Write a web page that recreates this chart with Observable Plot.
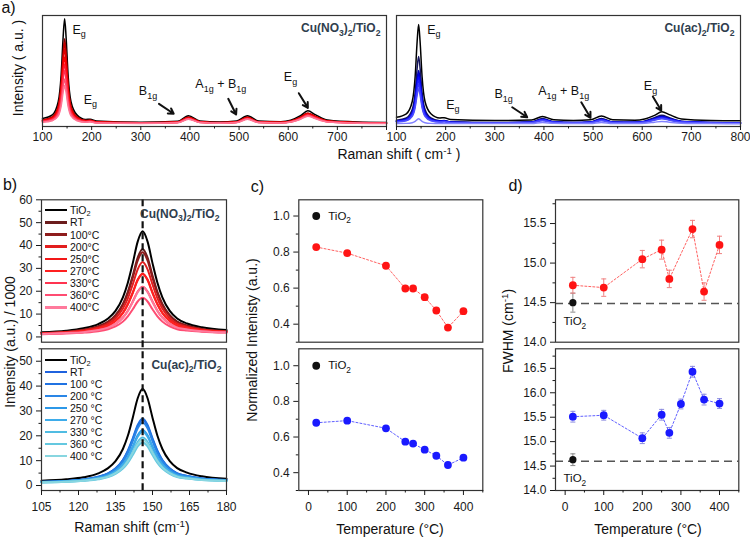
<!DOCTYPE html>
<html><head><meta charset="utf-8">
<script src="https://cdn.jsdelivr.net/npm/d3@7"></script>
<script src="https://cdn.jsdelivr.net/npm/@observablehq/plot@0.6"></script>
<style>
body{margin:0;background:#fff;}
#fig{position:relative;width:750px;height:539px;overflow:hidden;font-family:"Liberation Sans",Arial,Helvetica,sans-serif;color:#111;background:#fff;}
#fig div.p{position:absolute;}
.lbl{position:absolute;white-space:nowrap;line-height:1;}
.leg{position:absolute;font-size:10.5px;color:#111;}
.leg .row{display:flex;align-items:center;}
.leg .sw{display:inline-block;width:22px;height:2.4px;margin-right:3px;}
sub{font-size:0.7em;vertical-align:-0.28em;line-height:0;}
sup{font-size:0.7em;vertical-align:0.5em;line-height:0;}
</style></head><body><div id="fig"></div>
<script>
// ---------------- DATA ----------------
// Panel a: Raman shift grid (cm^-1) and spectra (a.u.)
const gridA = [100,120,132,138,142,145,148,152,158,170,188,197,210,300,375,397,420,460,495,517,540,585,605,625,640,655,680,740,800];
const aNO3_TiO2 = [7.5,10.8,23.0,48.3,83.1,100,83.1,48.3,23.0,10.8,6.5,6.8,5.1,4.0,4.8,10.0,5.2,4.2,5.0,10.0,5.0,4.5,5.8,10.0,14.5,11.0,6.0,4.2,3.8];
const aNO3_RT   = [6.1,9.0,18.9,39.5,67.7,81.5,67.7,39.5,18.9,9.0,5.5,5.8,4.3,3.5,4.2,8.6,4.5,3.6,4.3,8.6,4.3,3.9,5.0,8.6,12.4,9.4,5.2,3.6,3.3];
const aNO3_100  = [5.9,8.7,18.2,37.9,64.9,78,64.9,37.9,18.2,8.7,5.5,5.7,4.3,3.5,4.1,8.5,4.5,3.6,4.3,8.5,4.3,3.9,5.0,8.5,12.2,9.3,5.1,3.6,3.3];
const aNO3_200  = [5.6,8.2,17.0,35.1,59.9,72,59.9,35.1,17.0,8.2,5.2,5.5,4.1,3.4,4.0,8.2,4.3,3.5,4.2,8.2,4.2,3.8,4.8,8.2,11.8,9.0,5.0,3.5,3.2];
const aNO3_250  = [5.3,7.6,15.4,31.5,53.7,64.5,53.7,31.5,15.4,7.6,4.9,5.2,3.9,3.3,3.9,7.9,4.2,3.4,4.0,7.9,4.0,3.6,4.6,7.9,11.3,8.6,4.8,3.4,3.1];
const aNO3_270  = [4.9,7.0,14.0,28.5,48.3,58,48.3,28.5,14.0,7.0,4.7,5.0,3.8,3.1,3.7,7.5,4.0,3.3,3.9,7.5,3.9,3.5,4.5,7.5,10.8,8.3,4.6,3.3,3.0];
const aNO3_330  = [4.7,6.6,12.8,25.7,43.4,52,43.4,25.7,12.8,6.6,4.5,4.8,3.7,3.1,3.7,7.3,4.0,3.3,3.8,7.3,3.8,3.5,4.4,7.3,10.5,8.0,4.5,3.3,3.0];
const aNO3_360  = [4.3,5.9,11.1,21.9,36.8,44,36.8,21.9,11.1,5.9,4.2,4.5,3.5,3.0,3.6,7.1,3.8,3.2,3.7,7.1,3.7,3.4,4.2,7.1,10.1,7.7,4.4,3.2,2.9];
const aNO3_400  = [4.0,5.4,9.8,19.1,31.8,38,31.8,19.1,9.8,5.4,4.0,4.3,3.3,2.9,3.4,6.7,3.7,3.1,3.6,6.7,3.6,3.2,4.1,6.7,9.5,7.3,4.2,3.1,2.8];

const aAc_TiO2 = [8.6,11.8,23.2,46.6,78.9,94.6,78.9,46.6,23.2,11.8,7.9,8.2,6.5,5.5,6.1,9.3,6.3,5.6,6.2,9.8,6.2,5.8,6.9,10.3,13.7,11.0,7.0,5.6,5.3];
const aAc_RT   = [5.7,7.9,15.7,31.9,54.2,65,54.2,31.9,15.7,7.9,5.3,5.6,4.3,3.6,4.2,7.4,4.4,3.7,4.2,7.4,4.2,3.9,5.0,8.2,10.4,8.2,4.9,3.7,3.4];
const aAc_100  = [5.1,6.8,13.0,25.9,43.4,52,43.4,25.9,13.0,6.8,4.8,5.2,4.0,3.5,4.0,6.7,4.2,3.6,4.0,6.7,4.0,3.7,4.7,7.4,9.3,7.4,4.6,3.6,3.3];
const aAc_200  = [5.0,6.6,12.4,24.5,41.0,49,41.0,24.5,12.4,6.6,4.8,5.1,4.0,3.5,3.9,6.5,4.1,3.5,3.9,6.5,3.9,3.7,4.6,7.1,8.9,7.1,4.5,3.5,3.3];
const aAc_250  = [4.8,6.3,11.8,23.0,38.5,46,38.5,23.0,11.8,6.3,4.6,4.9,3.8,3.4,3.8,6.2,4.0,3.4,3.8,6.2,3.8,3.6,4.4,6.8,8.5,6.8,4.3,3.4,3.2];
const aAc_270  = [4.7,6.1,11.2,21.6,36.0,43,36.0,21.6,11.2,6.1,4.5,4.8,3.8,3.3,3.8,6.0,3.9,3.4,3.8,6.0,3.8,3.6,4.3,6.6,8.1,6.6,4.3,3.4,3.2];
const aAc_330  = [4.4,5.7,10.3,19.7,32.7,39,32.7,19.7,10.3,5.7,4.3,4.6,3.6,3.2,3.6,5.7,3.8,3.3,3.6,5.7,3.6,3.4,4.1,6.2,7.7,6.2,4.1,3.3,3.1];
const aAc_360  = [4.2,5.3,9.4,17.8,29.4,35,29.4,17.8,9.4,5.3,4.1,4.3,3.5,3.1,3.5,5.4,3.6,3.2,3.5,5.4,3.5,3.3,4.0,5.9,7.2,5.9,3.9,3.2,3.0];
const aAc_400  = [2.8,2.9,3.5,4.7,6.4,7.2,6.4,4.7,3.5,2.9,2.7,2.8,2.7,2.7,2.8,3.8,2.9,2.7,2.8,3.8,2.8,2.8,3.1,4.0,4.7,4.0,3.1,2.7,2.6];

// Panel b: Raman shift grid (cm^-1) and intensity / 1000
const gridB = [105,115,122,128,132,135,138,140,142,144,146,148,150,152,154,157,160,164,170,180];
const bNO3_TiO2 = [2.0,2.7,3.8,5.6,8.1,11.4,17.3,23.7,32.3,41.7,46.2,41.7,32.3,23.7,17.3,11.4,8.1,5.9,4.2,3.0];
const bNO3_RT   = [1.7,2.3,3.1,4.7,6.7,9.5,14.4,19.7,26.9,34.7,38.5,34.7,26.9,19.7,14.4,9.5,6.7,5.0,3.5,2.5];
const bNO3_100  = [1.7,2.2,3.0,4.5,6.5,9.2,13.9,19.0,25.9,33.4,37.0,33.4,25.9,19.0,13.9,9.2,6.5,4.8,3.4,2.5];
const bNO3_200  = [1.6,2.1,2.8,4.1,5.8,8.2,12.4,16.9,23.0,29.6,32.8,29.6,23.0,16.9,12.4,8.2,5.8,4.4,3.2,2.4];
const bNO3_250  = [1.5,1.9,2.5,3.6,5.1,7.1,10.6,14.4,19.5,25.1,27.8,25.1,19.5,14.4,10.6,7.1,5.1,3.9,2.9,2.2];
const bNO3_270  = [1.5,1.9,2.5,3.6,5.0,7.0,10.4,14.2,19.2,24.8,27.4,24.8,19.2,14.2,10.4,7.0,5.0,3.9,2.9,2.2];
const bNO3_330  = [1.3,1.7,2.1,3.0,4.2,5.7,8.5,11.5,15.5,19.9,22.0,19.9,15.5,11.5,8.5,5.7,4.2,3.3,2.5,2.0];
const bNO3_360  = [1.2,1.5,1.9,2.5,3.4,4.6,6.7,9.0,12.1,15.5,17.1,15.5,12.1,9.0,6.7,4.6,3.4,2.8,2.3,1.9];
const bNO3_400  = [1.3,1.7,2.1,3.0,4.1,5.7,8.4,11.3,15.3,19.6,21.7,19.6,15.3,11.3,8.4,5.7,4.1,3.3,2.5,2.0];

const bAc_TiO2 = [1.9,2.5,3.3,4.9,7.0,9.8,14.7,20.0,27.3,35.1,38.9,35.1,27.3,20.0,14.7,9.8,7.0,5.2,3.7,2.7];
const bAc_RT   = [1.4,1.8,2.4,3.5,4.9,6.8,10.1,13.7,18.6,23.9,26.5,23.9,18.6,13.7,10.1,6.8,4.9,3.8,2.8,2.2];
const bAc_100  = [1.5,1.8,2.4,3.5,4.9,6.9,10.3,14.0,19.0,24.4,27.0,24.4,19.0,14.0,10.3,6.9,4.9,3.8,2.8,2.2];
const bAc_200  = [1.4,1.8,2.3,3.4,4.7,6.5,9.7,13.2,17.9,23.0,25.4,23.0,17.9,13.2,9.7,6.5,4.7,3.7,2.7,2.1];
const bAc_250  = [1.4,1.7,2.2,3.0,4.2,5.8,8.6,11.6,15.7,20.2,22.3,20.2,15.7,11.6,8.6,5.8,4.2,3.3,2.5,2.0];
const bAc_270  = [1.3,1.7,2.1,3.0,4.1,5.7,8.4,11.3,15.3,19.6,21.7,19.6,15.3,11.3,8.4,5.7,4.1,3.3,2.5,2.0];
const bAc_330  = [1.3,1.6,2.0,2.7,3.8,5.1,7.5,10.1,13.6,17.5,19.3,17.5,13.6,10.1,7.5,5.1,3.8,3.0,2.3,1.9];
const bAc_360  = [1.2,1.5,1.9,2.5,3.4,4.7,6.8,9.1,12.3,15.7,17.3,15.7,12.3,9.1,6.8,4.7,3.4,2.8,2.2,1.8];
const bAc_400  = [1.3,1.5,1.9,2.7,3.6,5.0,7.3,9.8,13.2,16.8,18.6,16.8,13.2,9.8,7.3,5.0,3.6,2.9,2.2,1.8];
const peakPosition = 146;

// Series names / legend labels
const seriesNO3 = ["TiO_{2}","RT","100°C","200°C","250°C","270°C","330°C","360°C","400°C"];
const seriesAc  = ["TiO_{2}","RT","100 °C","200 °C","250 °C","270 °C","330 °C","360 °C","400 °C"];
const sampleNO3 = "Cu(NO_{3})_{2}/TiO_{2}";
const sampleAc  = "Cu(ac)_{2}/TiO_{2}";

// Panel a annotations (band assignments)
const annotNO3 = [
  {label:"E_{g}", x:161, y:90}, {label:"E_{g}", x:184, y:25}, {label:"B_{1g}", x:296, y:33},
  {label:"A_{1g} + B_{1g}", x:411, y:39}, {label:"E_{g}", x:591, y:45.5}];
const arrowsNO3 = [{x1:337,y1:21,x2:367,y2:11.8},{x1:478,y1:25.7,x2:494,y2:11.1},{x1:621.6,y1:30.9,x2:640,y2:17.3}];
const annotAc = [
  {label:"E_{g}", x:162.5, y:90}, {label:"E_{g}", x:201, y:20.4}, {label:"B_{1g}", x:299.4, y:29.7},
  {label:"A_{1g} + B_{1g}", x:388.4, y:32.9}, {label:"E_{g}", x:603.3, y:37.6}];
const arrowsAc = [{x1:335.5,y1:17.9,x2:366,y2:8.6},{x1:476,y1:22.5,x2:494.8,y2:8.1},{x1:621.6,y1:27.8,x2:638.7,y2:14.8}];

// Panel c: normalized intensity
const temperatures = [20,100,200,250,270,300,330,360,400];
const normIntensityNO3 = [0.828,0.794,0.724,0.598,0.598,0.550,0.476,0.381,0.472];
const normIntensityAc  = [0.680,0.692,0.649,0.574,0.563,0.529,0.495,0.443,0.484];
const tio2Temp = 20;
const tio2NormIntensity = 1.0;

// Panel d: FWHM
const fwhmTempsNO3 = [20,100,200,250,270,330,360,400];
const fwhmNO3    = [14.72,14.69,15.05,15.17,14.80,15.43,14.64,15.23];
const fwhmErrNO3 = [0.10,0.11,0.11,0.12,0.11,0.11,0.11,0.11];
const fwhmTempsAc = [20,100,200,250,270,300,330,360,400];
const fwhmAc     = [15.51,15.54,15.07,15.55,15.18,15.77,16.43,15.86,15.78];
const fwhmErrAc  = [0.11,0.10,0.11,0.11,0.11,0.10,0.11,0.11,0.10];
const tio2FwhmNO3 = 14.50, tio2FwhmErrNO3 = 0.12, refFwhmNO3 = 14.49;
const tio2FwhmAc  = 14.63, tio2FwhmErrAc  = 0.12, refFwhmAc  = 14.60;

// Tick values
const ticksA = [100,200,300,400,500,600,700,800];
const minorA = [150,250,350,450,550,650,750];
const ticksB = [105,120,135,150,165,180];
const minorB = [112.5,127.5,142.5,157.5,172.5];
const ticksBTop = [0,10,20,30,40,50,60];
const ticksBBot = [0,10,20,30,40,50];
const minorBY = [5,15,25,35,45,55];
const ticksT = [0,100,200,300,400];
const minorT = [50,150,250,350,450];
const ticksC = [0.4,0.6,0.8,1.0];
const minorC = [0.3,0.5,0.7,0.9];
const ticksDTop = [14.0,14.5,15.0,15.5];
const minorDTop = [14.25,14.75,15.25,15.75];
const ticksDBot = [14.0,14.5,15.0,15.5,16.0,16.5];
const minorDBot = [14.25,14.75,15.25,15.75,16.25,16.75];

// Colours
const colA_NO3 = ["#000000","#8b0000","#c00000","#e00000","#ff0000","#ff1a2e","#ff3050","#ff5070","#ff7494"];
const colA_Ac  = ["#000000","#15155e","#0000b4","#0000e0","#0a0aff","#2020ff","#3636ff","#4c4cff","#8282ff"];
const colB_NO3 = ["#000000","#6b1c1c","#8e1c1c","#e21e1e","#f21818","#ff2020","#ff3450","#ff4c72","#ff7a9c"];
const colB_Ac  = ["#000000","#1f62de","#2072e2","#2a86e6","#2c98e8","#3eacea","#50bce2","#64c8e0","#88d6e0"];

// ---------------- DRAWING ----------------
const fig = document.getElementById("fig");
const FONT = '"Liberation Sans", Arial, Helvetica, sans-serif';
const SUB = s => s.replace(/_\{([^}]*)\}/g, "<sub>$1</sub>").replace(/\^\{([^}]*)\}/g, "<sup>$1</sup>");

function richify(root) {
  root.querySelectorAll("text, tspan").forEach(t => {
    if (t.children.length) return;
    const s = t.textContent;
    if (!/[_^]\{/.test(s)) return;
    const fs = parseFloat(getComputedStyle(t).fontSize) || 12;
    t.textContent = "";
    const re = /([_^])\{([^}]*)\}/g;
    let last = 0, m, off = 0;
    const add = (txt, kind) => {
      const ts = document.createElementNS("http://www.w3.org/2000/svg", "tspan");
      const target = kind === "_" ? 0.3 * fs : kind === "^" ? -0.4 * fs : 0;
      const dy = target - off; off = target;
      if (dy) ts.setAttribute("dy", dy);
      if (kind) ts.setAttribute("font-size", 0.72 * fs);
      ts.textContent = txt; t.appendChild(ts);
    };
    while ((m = re.exec(s))) { if (m.index > last) add(s.slice(last, m.index), null); add(m[2], m[1]); last = re.lastIndex; }
    if (last < s.length) add(s.slice(last), null);
  });
}
function place(svg, left, top) {
  const d = document.createElement("div");
  d.className = "p"; d.style.left = left + "px"; d.style.top = top + "px";
  d.appendChild(svg); fig.appendChild(d); richify(svg);
}
function base(o) {
  return Object.assign({style: {fontFamily: FONT, fontSize: "12px", color: "#1a1a1a", background: "transparent", overflow: "visible"}}, o);
}
const frame = () => Plot.frame({stroke: "#333", strokeWidth: 1.2});
function xAxis(major, minor, fmt, size = 5, pad = 7) {
  return [Plot.axisX({ticks: minor, tickSize: 2.5, tickFormat: () => "", label: null}),
          Plot.axisX({ticks: major, tickSize: size, tickPadding: pad, tickFormat: fmt, label: null})];
}
function yAxis(major, minor, fmt) {
  return [Plot.axisY({ticks: minor, tickSize: 2.5, tickFormat: () => "", label: null}),
          Plot.axisY({ticks: major, tickSize: 5, tickPadding: 4, tickFormat: fmt, label: null})];
}
function spectra(xs, arrays, colors, w) {
  return arrays.map((ys, i) => Plot.line(xs.map((x, j) => ({x, y: ys[j]})),
    {x: "x", y: "y", stroke: colors[i], strokeWidth: w, curve: "monotone-x"}));
}
function label(html, cx, cy, size, rot) {
  const d = document.createElement("div");
  d.className = "lbl"; d.innerHTML = SUB(html);
  d.style.left = cx + "px"; d.style.top = cy + "px"; d.style.fontSize = size + "px";
  d.style.transform = "translate(-50%,-50%)" + (rot ? " rotate(-90deg)" : "");
  fig.appendChild(d);
}
function legend(names, colors, left, top, rowH) {
  const d = document.createElement("div");
  d.className = "leg"; d.style.left = left + "px"; d.style.top = top + "px";
  names.forEach((n, i) => {
    const r = document.createElement("div"); r.className = "row"; r.style.height = rowH + "px";
    r.innerHTML = `<span class="sw" style="background:${colors[i]}"></span><span>${SUB(n)}</span>`;
    d.appendChild(r);
  });
  fig.appendChild(d);
}
const sampleText = (s, dx, dy) => Plot.text([s], {text: d => d, frameAnchor: "top-right", dx, dy, lineAnchor: "middle",
  textAnchor: "end", fontWeight: "bold", fill: "#2f3e4e", fontSize: 12});

// ---- Panel a ----
const specNO3 = [aNO3_TiO2,aNO3_RT,aNO3_100,aNO3_200,aNO3_250,aNO3_270,aNO3_330,aNO3_360,aNO3_400];
const specAc  = [aAc_TiO2,aAc_RT,aAc_100,aAc_200,aAc_250,aAc_270,aAc_330,aAc_360,aAc_400];
function panelA(spec, cols, annot, arrows, sample, width, ml, mr, fmt) {
  return Plot.plot(base({width, height: 160, marginLeft: ml, marginRight: mr, marginTop: 15, marginBottom: 34,
    x: {domain: [100, 800]}, y: {domain: [0, 103], axis: null},
    marks: [
      ...spectra(gridA, spec, cols, 1.5),
      Plot.text(annot, {x: "x", y: "y", text: "label", textAnchor: "start", fontSize: 12.5, fill: "#111"}),
      Plot.arrow(arrows, {x1: "x1", y1: "y1", x2: "x2", y2: "y2", stroke: "#111", strokeWidth: 2, headLength: 6, headAngle: 60}),
      sampleText(sample, -6, 13),
      frame(),
      ...xAxis(ticksA, minorA, fmt, 4, 1.5)
    ]}));
}
place(panelA(specNO3, colA_NO3, annotNO3, arrowsNO3, sampleNO3, 390, 42, 4, d => d === 800 ? "" : d), 0, 0);
place(panelA(specAc, colA_Ac, annotAc, arrowsAc, sampleAc, 360, 6, 10, d => d), 390, 0);

// ---- Panel b ----
const bSpecNO3 = [bNO3_TiO2,bNO3_RT,bNO3_100,bNO3_200,bNO3_250,bNO3_270,bNO3_330,bNO3_360,bNO3_400];
const bSpecAc  = [bAc_TiO2,bAc_RT,bAc_100,bAc_200,bAc_250,bAc_270,bAc_330,bAc_360,bAc_400];
place(Plot.plot(base({width: 235, height: 184, marginLeft: 41, marginRight: 9, marginTop: 39.3, marginBottom: 2.3,
  x: {domain: [105, 180], axis: null}, y: {domain: [-2.3, 60]},
  marks: [
    ...spectra(gridB, bSpecNO3, colB_NO3, 2),
    Plot.ruleX([peakPosition], {stroke: "#111", strokeWidth: 2.2, strokeDasharray: "7,4"}),
    sampleText(sampleNO3, -7, 14),
    frame(),
    ...yAxis(ticksBTop, minorBY, d => d)
  ]})), 0, 160);
place(Plot.plot(base({width: 235, height: 199, marginLeft: 41, marginRight: 9, marginTop: 8.3, marginBottom: 49,
  x: {domain: [105, 180]}, y: {domain: [-2, 55]},
  marks: [
    ...spectra(gridB, bSpecAc, colB_Ac, 2),
    Plot.ruleX([peakPosition], {stroke: "#111", strokeWidth: 2.2, strokeDasharray: "7,4", insetTop: -8}),
    sampleText(sampleAc, -5, 16),
    frame(),
    ...yAxis(ticksBBot, minorBY, d => d),
    ...xAxis(ticksB, minorB, d => d)
  ]})), 0, 340);
legend(seriesNO3, colB_NO3, 45, 204.2, 12.15);
legend(seriesAc, colB_Ac, 45, 354, 12.0);

// ---- Panel c ----
function panelC(vals, color, lineColor, height, mt, mb, withX, yDomain) {
  const data = temperatures.map((t, i) => ({t, v: vals[i]}));
  const ref = [{t: tio2Temp, v: tio2NormIntensity, label: "TiO_{2}"}];
  return Plot.plot(base({width: 250, height, marginLeft: 63.3, marginRight: 2.7, marginTop: mt, marginBottom: mb,
    x: {domain: [-25, 450], axis: withX ? undefined : null}, y: {domain: yDomain},
    marks: [
      Plot.line(data, {x: "t", y: "v", stroke: lineColor, strokeWidth: 1, strokeDasharray: "2,2"}),
      Plot.dot(data, {x: "t", y: "v", r: 3.9, fill: color}),
      Plot.dot(ref, {x: "t", y: "v", r: 3.9, fill: "#111"}),
      Plot.text(ref, {x: "t", y: "v", text: "label", dx: 12, textAnchor: "start", fontSize: 11.5, fill: "#111"}),
      frame(),
      ...yAxis(ticksC, minorC, d3.format(".1f")),
      ...(withX ? xAxis(ticksT, minorT, d => d) : [])
    ]}));
}
place(panelC(normIntensityNO3, "#ff1414", "#ff6060", 184, 39.3, 2.3, false, [0.3, 1.09]), 235, 160);
place(panelC(normIntensityAc, "#1a1aff", "#6060ff", 199, 8.3, 49, true, [0.3, 1.095]), 235, 340);

// ---- Panel d ----
const capSym = {draw(ctx, size) { const w = Math.sqrt(size / Math.PI); ctx.moveTo(-w, 0); ctx.lineTo(w, 0); }};
function errorBars(data, color) {
  return [
    Plot.ruleX(data, {x: "t", y1: d => d.v - d.e, y2: d => d.v + d.e, stroke: color, strokeWidth: 1}),
    Plot.dot(data, {x: "t", y: d => d.v - d.e, symbol: capSym, r: 2.5, stroke: color, strokeWidth: 1, fill: "none"}),
    Plot.dot(data, {x: "t", y: d => d.v + d.e, symbol: capSym, r: 2.5, stroke: color, strokeWidth: 1, fill: "none"})
  ];
}
function panelD(temps, vals, errs, t0, e0, refLine, color, lineColor, errColor, height, mt, mb, withX, yDomain, ticks, minor) {
  const data = temps.map((t, i) => ({t, v: vals[i], e: errs[i]}));
  const ref = [{t: tio2Temp, v: t0, e: e0, label: "TiO_{2}"}];
  return Plot.plot(base({width: 265, height, marginLeft: 70, marginRight: 11.7, marginTop: mt, marginBottom: mb,
    x: {domain: [-25, 450], axis: withX ? undefined : null}, y: {domain: yDomain},
    marks: [
      Plot.ruleY([refLine], {stroke: "#555", strokeWidth: 1.5, strokeDasharray: "8,5"}),
      ...errorBars(ref, "#888"),
      ...errorBars(data, errColor),
      Plot.line(data, {x: "t", y: "v", stroke: lineColor, strokeWidth: 1, strokeDasharray: "2,2"}),
      Plot.dot(data, {x: "t", y: "v", r: 3.9, fill: color}),
      Plot.dot(ref, {x: "t", y: "v", r: 3.6, fill: "#111"}),
      Plot.text(ref, {x: "t", y: "v", text: "label", dx: 2, dy: 19, textAnchor: "middle", fontSize: 11.5, fill: "#111"}),
      frame(),
      ...yAxis(ticks, minor, d3.format(".1f")),
      ...(withX ? xAxis(ticksT, minorT, d => d) : [])
    ]}));
}
place(panelD(fwhmTempsNO3, fwhmNO3, fwhmErrNO3, tio2FwhmNO3, tio2FwhmErrNO3, refFwhmNO3, "#ff1414", "#ff6060", "#f08080",
  184, 39.3, 2.3, false, [14.0, 15.8], ticksDTop, minorDTop), 485, 160);
place(panelD(fwhmTempsAc, fwhmAc, fwhmErrAc, tio2FwhmAc, tio2FwhmErrAc, refFwhmAc, "#1a1aff", "#6060ff", "#8c8ce0",
  199, 8.3, 49, true, [14.0, 16.9], ticksDBot, minorDBot), 485, 340);

// ---- Text labels ----
label("a)", 8.5, 7.5, 16);
label("b)", 10, 184.5, 16);
label("c)", 257.5, 187, 16);
label("d)", 515.5, 185.7, 16);
label("Raman shift ( cm^{-1} )", 399, 154, 14);
label("Intensity ( a.u. )", 17.5, 68, 14, true);
label("Intensity (a.u.) / 1000", 10, 342, 14, true);
label("Raman shift (cm^{-1})", 132, 527, 14);
label("Normalized Intenisty (a.u.)", 251.7, 340, 14, true);
label("Temperature (°C)", 390, 529, 14);
label("FWHM (cm^{-1})", 508, 331, 14, true);
label("Temperature (°C)", 648, 529, 14);
</script></body></html>
